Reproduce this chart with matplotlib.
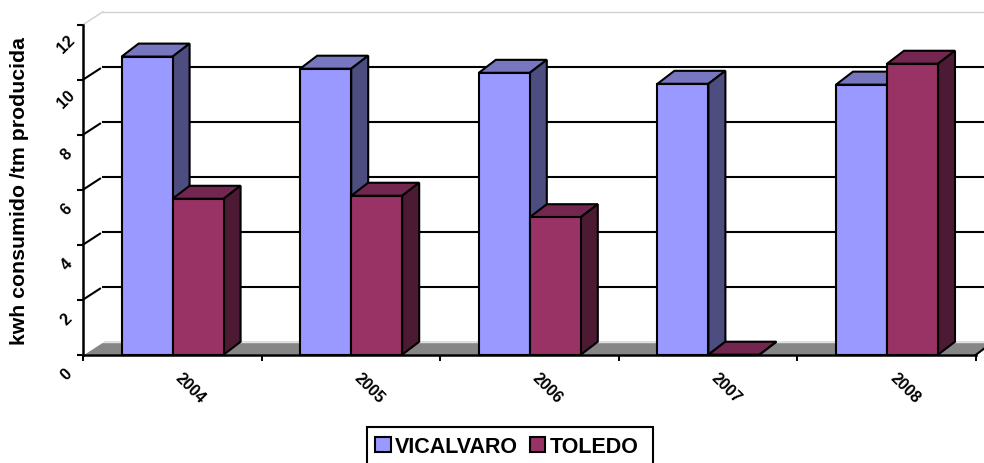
import matplotlib
matplotlib.use('Agg')
import matplotlib.pyplot as plt
from matplotlib.patches import Polygon, Patch, Rectangle

plt.rcParams['font.family'] = ['Liberation Sans', 'DejaVu Sans']

# values
years = ['2004', '2005', '2006', '2007', '2008']
vicalvaro = [10.84, 10.40, 10.25, 9.85, 9.82]
toledo = [5.67, 5.78, 5.00, 0.0, 10.58]
y_ticks = [0, 2, 4, 6, 8, 10, 12]

W, H = 984, 464
fig = plt.figure(figsize=(W / 100, H / 100), dpi=100)
# pixel box of the front plane
left, right, top, bottom = 83, 976, 25.7, 355.7
ax = fig.add_axes([left / W, 1 - bottom / H, (right - left) / W, (bottom - top) / H])
ax.set_xlim(0, len(years))
ax.set_ylim(0, 12)

# 3d depth, pixels converted to data units
px_x = len(years) / (right - left)
px_y = 12 / (bottom - top)
wall_dx, wall_dy = 20 * px_x, 13 * px_y
bar_dx, bar_dy = 17 * px_x, 13 * px_y
bar_w = 51 * px_x
gap = 38.6 * px_x

edge = dict(edgecolor='black', linewidth=1.5, joinstyle='miter', clip_on=False)


def add_bar(x, h, front, top_c, side):
    ax.add_patch(Polygon([(x, h), (x + bar_w, h), (x + bar_w + bar_dx, h + bar_dy), (x + bar_dx, h + bar_dy)],
                         facecolor=top_c, zorder=5, **edge))
    ax.add_patch(Polygon([(x + bar_w, 0), (x + bar_w + bar_dx, bar_dy), (x + bar_w + bar_dx, h + bar_dy), (x + bar_w, h)],
                         facecolor=side, zorder=5, **edge))
    ax.add_patch(Polygon([(x, 0), (x + bar_w, 0), (x + bar_w, h), (x, h)],
                         facecolor=front, zorder=5, **edge))


# floor and walls
ax.add_patch(Polygon([(0, 0), (wall_dx, wall_dy), (5 + wall_dx, wall_dy), (5, 0)],
                     facecolor='#868686', edgecolor='none', clip_on=False, zorder=1))
ax.plot([wall_dx, 5 + 8 * px_x], [12 + wall_dy] * 2, color='#d0d0d0', lw=1, clip_on=False, zorder=1)
ax.plot([0, wall_dx], [12, 12 + wall_dy], color='#d0d0d0', lw=1, clip_on=False, zorder=1)
ax.plot([0, wall_dx], [0, wall_dy], color='white', lw=1.2, clip_on=False, zorder=2)
ax.plot([wall_dx, 5 + 8 * px_x], [wall_dy] * 2, color='#e4e4e4', lw=1, clip_on=False, zorder=1)

# gridlines on the back wall plus the slanted bit on the side wall
for v in y_ticks[1:-1]:
    ax.plot([wall_dx, 5 + 8 * px_x], [v + wall_dy] * 2, color='black', lw=1.5, clip_on=False, zorder=2)
    ax.plot([0, wall_dx * 0.85], [v, v + wall_dy * 0.85], color='black', lw=1.5, clip_on=False, zorder=2)

# right end of the floor
ax.plot([5, 5 + 8 * px_x], [0, 6 * px_y], color='black', lw=1.5, clip_on=False, zorder=2)

for i in range(len(years)):
    x0 = i + gap
    add_bar(x0, vicalvaro[i], '#9999ff', '#7777bf', '#4d4d80')
    add_bar(x0 + bar_w, toledo[i], '#993366', '#732650', '#4d1a33')

# axes
for s in ['top', 'right']:
    ax.spines[s].set_visible(False)
for s in ['left', 'bottom']:
    ax.spines[s].set_linewidth(1.8)
    ax.spines[s].set_zorder(6)

ax.set_yticks(y_ticks)
ax.set_yticklabels([])
ax.tick_params(axis='y', length=4, width=1.5)
ax.set_xticks(range(len(years) + 1))
ax.set_xticklabels([])
ax.tick_params(axis='x', length=4, width=1.4)

# rotated tick labels sit down and to the left of their ticks in the reference
for v in y_ticks:
    ax.annotate(str(v), (0, v), xytext=(-12, -13.5), textcoords='offset points', rotation=45,
                ha='center', va='center', fontsize=11.5, fontweight='bold', annotation_clip=False)
for i, yr in enumerate(years):
    ax.annotate(yr, (i + 0.5, 0), xytext=(13, -23.5), textcoords='offset points', rotation=-45,
                ha='center', va='center', fontsize=11.5, fontweight='bold', annotation_clip=False)

fig.text(20 / W, 1 - 191 / H, 'kwh consumido /tm producida', rotation=90, ha='center', va='center',
         fontsize=15.3, fontweight='bold')

# legend box runs off the bottom of the image, so it is drawn apart from the entries
fig.add_artist(Rectangle((367 / W, 1 - 468 / H), 286 / W, 40 / H, transform=fig.transFigure,
                         facecolor='white', edgecolor='black', linewidth=1.5, zorder=3))
handles = [Patch(facecolor='#9999ff', edgecolor='black', linewidth=1.5, label='VICALVARO'),
           Patch(facecolor='#993366', edgecolor='black', linewidth=1.5, label='TOLEDO')]
leg = fig.legend(handles=handles, ncol=2, loc='center', bbox_to_anchor=(507 / W, 1 - 447.5 / H),
                 prop={'size': 15.5, 'weight': 'bold'}, frameon=False,
                 handlelength=0.72, handleheight=0.72, handletextpad=0.2,
                 columnspacing=0.55, borderpad=0, borderaxespad=0)
leg.set_zorder(4)

fig.savefig('out.png', dpi=100)
